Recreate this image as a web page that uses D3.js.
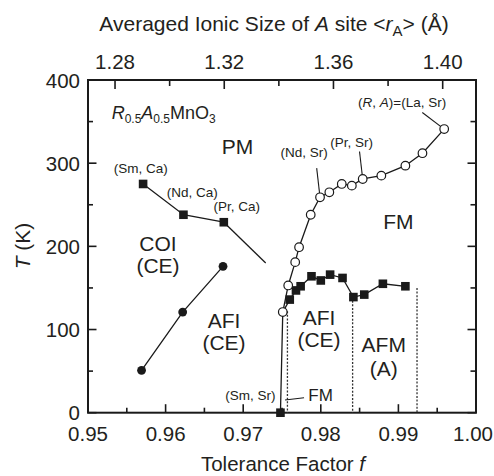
<!DOCTYPE html>
<html>
<head>
<meta charset="utf-8">
<script src="https://cdn.jsdelivr.net/npm/d3@7"></script>
<style>
html,body{margin:0;padding:0;background:#fff;}
svg text{font-family:"Liberation Sans",Arial,Helvetica,sans-serif;fill:#231f20;}
</style>
</head>
<body>
<svg id="chart" width="494" height="476"></svg>
<script>
// ---------------- data ----------------
// Ca series: charge-ordered insulator transition (filled squares)
const coiF = [0.9571, 0.9623, 0.9675];
const coiT = [275, 238, 229];
// extension of the COI boundary beyond (Pr, Ca) (line only)
const coiExtF = [0.9675, 0.9729];
const coiExtT = [229, 180];
// Ca series: AFI (CE) transition (filled circles)
const afiCaF = [0.9569, 0.9622, 0.9674];
const afiCaT = [51, 121, 176];
// Sr series: Curie temperature (open circles)
const tcSrF = [0.9751, 0.9758, 0.9767, 0.9772, 0.9787, 0.9799, 0.9811, 0.9827, 0.9840, 0.9854, 0.9878, 0.9909, 0.9931, 0.9959];
const tcSrT = [121, 153, 181, 199, 238, 259, 265, 275, 273, 281, 285, 297, 312, 341];
// Sr series: Neel temperature (filled squares)
const tnSrF = [0.9748, 0.9760, 0.9768, 0.9774, 0.9788, 0.9800, 0.9812, 0.9828, 0.9842, 0.9856, 0.9880, 0.9909];
const tnSrT = [0, 136, 147, 152, 164, 159, 166, 162, 139, 142, 155, 152];
// dotted phase boundaries
const boundF = [0.9757, 0.9841, 0.9924];
const boundT = [122, 139, 150];
// axis ticks
const xMajor = [0.95, 0.96, 0.97, 0.98, 0.99, 1.00];
const xMinor = [0.955, 0.965, 0.975, 0.985, 0.995];
const yMajor = [0, 100, 200, 300, 400];
const yMinor = [50, 150, 250, 350];
const rMajor = [1.28, 1.32, 1.36, 1.40];
const rMinor = [1.30, 1.34, 1.38];
const rDomain = [1.2701, 1.4122];

// ---------------- layout ----------------
const L = 88, R = 476, T = 80, B = 412.7;
const W = 494;
const svg = d3.select("#chart");
const x = d3.scaleLinear().domain([0.95, 1.00]).range([L, R]);
const y = d3.scaleLinear().domain([0, 400]).range([B, T]);
const xr = d3.scaleLinear().domain(rDomain).range([L, R]);
const ink = "#1a1a1a";
const FS = 21;
const TS = 20.5;

// ---------------- axes ----------------
function ticks(g, scale, vals, len, orient) {
  vals.forEach(v => {
    const p = scale(v);
    let x1, y1, x2, y2;
    if (orient === "bottom") { x1 = x2 = p; y1 = B; y2 = B - len; }
    if (orient === "top") { x1 = x2 = p; y1 = T; y2 = T + len; }
    if (orient === "left") { y1 = y2 = p; x1 = L; x2 = L + len; }
    if (orient === "right") { y1 = y2 = p; x1 = R; x2 = R - len; }
    g.append("line").attr("x1", x1).attr("y1", y1).attr("x2", x2).attr("y2", y2)
      .attr("stroke", ink).attr("stroke-width", 1.6);
  });
}
const ax = svg.append("g");
ticks(ax, x, xMajor, 8.5, "bottom");
ticks(ax, x, xMinor, 5, "bottom");
ticks(ax, y, yMajor, 8.5, "left");
ticks(ax, y, yMinor, 5, "left");
ticks(ax, y, yMajor, 8.5, "right");
ticks(ax, y, yMinor, 5.5, "right");
ticks(ax, xr, rMajor, 9, "top");
ticks(ax, xr, rMinor, 6, "top");

ax.append("rect").attr("x", L).attr("y", T).attr("width", R - L).attr("height", B - T)
  .attr("fill", "none").attr("stroke", ink).attr("stroke-width", 2);

// tick labels (last bottom label kept inside the page edge)
svg.append("g").selectAll("text").data(xMajor).join("text")
  .attr("x", (d, i) => i === xMajor.length - 1 ? W - 1 : x(d))
  .attr("y", 441)
  .attr("text-anchor", (d, i) => i === xMajor.length - 1 ? "end" : "middle")
  .attr("font-size", TS).text(d => d3.format(".2f")(d));
svg.append("g").selectAll("text").data(yMajor).join("text")
  .attr("x", 80).attr("y", d => y(d) + 7.5).attr("text-anchor", "end")
  .attr("font-size", TS).text(d => d);
svg.append("g").selectAll("text").data(rMajor).join("text")
  .attr("x", d => xr(d)).attr("y", 69).attr("text-anchor", "middle")
  .attr("font-size", TS).text(d => d3.format(".2f")(d));

// axis titles
const xt = svg.append("text").attr("x", 283).attr("y", 471).attr("text-anchor", "middle").attr("font-size", TS);
xt.append("tspan").text("Tolerance Factor ");
xt.append("tspan").attr("font-style", "italic").text("f");

const yt = svg.append("text").attr("transform", "translate(30,246) rotate(-90)")
  .attr("text-anchor", "middle").attr("font-size", FS);
yt.append("tspan").attr("font-style", "italic").text("T");
yt.append("tspan").text(" (K)");

const tt = svg.append("text").attr("x", 274).attr("y", 31).attr("text-anchor", "middle").attr("font-size", FS);
tt.append("tspan").text("Averaged Ionic Size of ");
tt.append("tspan").attr("font-style", "italic").text("A");
tt.append("tspan").text(" site <");
tt.append("tspan").attr("font-style", "italic").text("r");
tt.append("tspan").attr("font-size", 15).attr("dy", 5).text("A");
tt.append("tspan").attr("dy", -5).text("> (Å)");

// ---------------- dotted boundaries ----------------
svg.append("g").selectAll("line").data(boundF).join("line")
  .attr("x1", d => x(d)).attr("x2", d => x(d))
  .attr("y1", (d, i) => y(boundT[i])).attr("y2", y(0))
  .attr("stroke", "#333").attr("stroke-width", 1.3).attr("stroke-dasharray", "2,1.6");

// ---------------- lines ----------------
const line = d3.line().x(d => x(d[0])).y(d => y(d[1]));
const zip = (a, b) => a.map((v, i) => [v, b[i]]);
const lineStyle = p => p.attr("fill", "none").attr("stroke", ink).attr("stroke-width", 1.3);

svg.append("path").datum(zip(coiF, coiT)).attr("d", line).call(lineStyle);
svg.append("path").datum(zip(coiExtF, coiExtT)).attr("d", line).call(lineStyle);
svg.append("path").datum(zip(afiCaF, afiCaT)).attr("d", line).call(lineStyle);
// Tc line starts at the (Sm,Sr) zero-temperature point
svg.append("path").datum([[tnSrF[0], tnSrT[0]]].concat(zip(tcSrF, tcSrT))).attr("d", line).call(lineStyle);
// Tn line starts at the first Tc point
svg.append("path").datum([[tcSrF[0], tcSrT[0]]].concat(zip(tnSrF.slice(1), tnSrT.slice(1)))).attr("d", line).call(lineStyle);

// ---------------- leader lines ----------------
const leaders = [
  [[0.9959, 341], [0.99308, 361]],
  [[0.9854, 281], [0.98499, 314]],
  [[0.9799, 259], [0.97947, 294]],
  [[0.97539, 15.3], [0.97784, 18]]
];
leaders.forEach(l => svg.append("path").datum(l).attr("d", line).attr("fill", "none")
  .attr("stroke", ink).attr("stroke-width", 1.1));

// ---------------- markers ----------------
const S = 8.6;
function squares(fs, ts) {
  svg.append("g").selectAll("rect").data(zip(fs, ts)).join("rect")
    .attr("x", d => x(d[0]) - S / 2).attr("y", d => y(d[1]) - S / 2)
    .attr("width", S).attr("height", S).attr("fill", ink);
}
squares(coiF, coiT);
squares(tnSrF, tnSrT);
svg.append("g").selectAll("circle").data(zip(afiCaF, afiCaT)).join("circle")
  .attr("cx", d => x(d[0])).attr("cy", d => y(d[1])).attr("r", 4.4).attr("fill", ink);
svg.append("g").selectAll("circle").data(zip(tcSrF, tcSrT)).join("circle")
  .attr("cx", d => x(d[0])).attr("cy", d => y(d[1])).attr("r", 4.3)
  .attr("fill", "#fff").attr("stroke", ink).attr("stroke-width", 1.2);

// ---------------- annotations ----------------
const small = 13.5;
function lab(f, t, txt, size, anchor) {
  return svg.append("text").attr("x", x(f)).attr("y", y(t)).attr("font-size", size)
    .attr("text-anchor", anchor || "middle").text(txt);
}
lab(0.95680, 288, "(Sm, Ca)", small);
lab(0.96344, 259, "(Nd, Ca)", small);
lab(0.96916, 242, "(Pr, Ca)", small);
lab(0.97094, 15.3, "(Sm, Sr)", small);
lab(0.97786, 307.5, "(Nd, Sr)", small);
lab(0.98396, 320, "(Pr, Sr)", small);
const la = svg.append("text").attr("x", x(0.98479)).attr("y", y(367.3)).attr("font-size", small);
la.append("tspan").text("(");
la.append("tspan").attr("font-style", "italic").text("R");
la.append("tspan").text(", ");
la.append("tspan").attr("font-style", "italic").text("A");
la.append("tspan").text(")=(La, Sr)");

// formula
const fm = svg.append("text").attr("x", x(0.95305)).attr("y", y(352.6)).attr("font-size", 18);
fm.append("tspan").attr("font-style", "italic").text("R");
fm.append("tspan").attr("font-size", 12).attr("dy", 4).text("0.5");
fm.append("tspan").attr("font-style", "italic").attr("dy", -4).text("A");
fm.append("tspan").attr("font-size", 12).attr("dy", 4).text("0.5");
fm.append("tspan").attr("dy", -4).text("MnO");
fm.append("tspan").attr("font-size", 12).attr("dy", 4).text("3");

// phase labels
lab(0.96926, 311, "PM", FS);
lab(0.99000, 221, "FM", FS);
lab(0.95902, 194.7, "COI", FS);
lab(0.95902, 168, "(CE)", FS);
lab(0.96753, 101.4, "AFI", FS);
lab(0.96753, 75.4, "(CE)", FS);
lab(0.97977, 105.4, "AFI", FS);
lab(0.97977, 79, "(CE)", FS);
lab(0.98811, 73.3, "AFM", FS);
lab(0.98811, 44, "(A)", FS);
lab(0.97839, 14.4, "FM", 17, "start");
</script>
</body>
</html>
